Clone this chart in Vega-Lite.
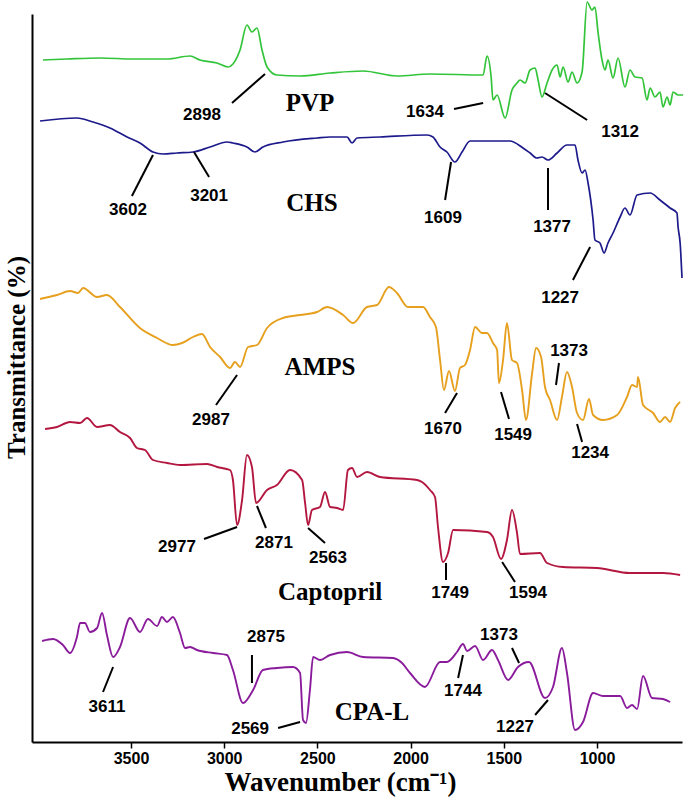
{
"$schema":"https://vega.github.io/schema/vega-lite/v6.json",
"width":650,"height":728,"autosize":"none",
"padding":{"left":32,"top":14,"right":3,"bottom":60},
"background":"white",
"config":{"view":{"stroke":null}},
"datasets":{
"PVP":[{"w":3972,"t":682},{"w":3843,"t":683},{"w":3666,"t":684},{"w":3489,"t":683},{"w":3307,"t":683},{"w":3183,"t":686},{"w":3130,"t":682},{"w":3038,"t":679},{"w":2979,"t":675},{"w":2953,"t":678},{"w":2915,"t":692},{"w":2878,"t":717},{"w":2851,"t":710},{"w":2824,"t":714},{"w":2797,"t":692},{"w":2770,"t":675},{"w":2717,"t":667},{"w":2593,"t":666},{"w":2432,"t":669},{"w":2255,"t":671},{"w":2073,"t":666},{"w":1896,"t":668},{"w":1611,"t":667},{"w":1590,"t":686},{"w":1568,"t":665},{"w":1558,"t":642},{"w":1536,"t":647},{"w":1493,"t":624},{"w":1456,"t":652},{"w":1429,"t":659},{"w":1413,"t":662},{"w":1386,"t":659},{"w":1359,"t":672},{"w":1332,"t":674},{"w":1316,"t":662},{"w":1295,"t":645},{"w":1268,"t":659},{"w":1241,"t":672},{"w":1214,"t":677},{"w":1198,"t":665},{"w":1182,"t":675},{"w":1155,"t":660},{"w":1134,"t":670},{"w":1107,"t":659},{"w":1080,"t":670},{"w":1053,"t":740},{"w":1027,"t":732},{"w":1011,"t":735},{"w":994,"t":709},{"w":973,"t":682},{"w":957,"t":672},{"w":941,"t":682},{"w":914,"t":664},{"w":887,"t":684},{"w":850,"t":655},{"w":823,"t":672},{"w":796,"t":665},{"w":758,"t":664},{"w":732,"t":642},{"w":715,"t":654},{"w":689,"t":645},{"w":662,"t":650},{"w":646,"t":635},{"w":624,"t":645},{"w":608,"t":637},{"w":592,"t":650},{"w":565,"t":647},{"w":538,"t":647}],
"CHS":[{"w":3988,"t":621},{"w":3790,"t":624},{"w":3704,"t":620},{"w":3613,"t":614},{"w":3521,"t":605},{"w":3452,"t":599},{"w":3382,"t":590},{"w":3328,"t":588},{"w":3253,"t":589},{"w":3167,"t":590},{"w":3076,"t":595},{"w":2985,"t":600},{"w":2953,"t":599},{"w":2878,"t":595},{"w":2835,"t":590},{"w":2792,"t":595},{"w":2684,"t":600},{"w":2502,"t":604},{"w":2432,"t":605},{"w":2341,"t":605},{"w":2314,"t":599},{"w":2287,"t":604},{"w":2164,"t":605},{"w":1912,"t":607},{"w":1880,"t":605},{"w":1842,"t":595},{"w":1805,"t":590},{"w":1762,"t":580},{"w":1724,"t":590},{"w":1681,"t":601},{"w":1467,"t":601},{"w":1397,"t":594},{"w":1359,"t":589},{"w":1322,"t":584},{"w":1295,"t":585},{"w":1263,"t":582},{"w":1214,"t":589},{"w":1161,"t":597},{"w":1118,"t":597},{"w":1102,"t":582},{"w":1080,"t":569},{"w":1064,"t":572},{"w":1048,"t":559},{"w":1021,"t":522},{"w":1011,"t":502},{"w":984,"t":499},{"w":962,"t":489},{"w":941,"t":499},{"w":914,"t":509},{"w":876,"t":525},{"w":850,"t":534},{"w":823,"t":527},{"w":785,"t":547},{"w":715,"t":549},{"w":662,"t":542},{"w":608,"t":534},{"w":571,"t":529},{"w":565,"t":515},{"w":554,"t":499},{"w":544,"t":464}],
"AMPS":[{"w":3988,"t":443},{"w":3897,"t":447},{"w":3827,"t":451},{"w":3784,"t":449},{"w":3757,"t":454},{"w":3682,"t":445},{"w":3629,"t":447},{"w":3559,"t":435},{"w":3452,"t":414},{"w":3360,"t":404},{"w":3275,"t":397},{"w":3226,"t":399},{"w":3167,"t":405},{"w":3119,"t":408},{"w":3076,"t":395},{"w":3022,"t":385},{"w":2969,"t":374},{"w":2942,"t":380},{"w":2915,"t":375},{"w":2872,"t":395},{"w":2824,"t":397},{"w":2770,"t":414},{"w":2684,"t":424},{"w":2593,"t":427},{"w":2502,"t":430},{"w":2448,"t":435},{"w":2362,"t":427},{"w":2309,"t":419},{"w":2234,"t":435},{"w":2180,"t":437},{"w":2116,"t":455},{"w":2073,"t":449},{"w":2014,"t":435},{"w":1933,"t":435},{"w":1896,"t":425},{"w":1864,"t":415},{"w":1842,"t":382},{"w":1821,"t":352},{"w":1794,"t":371},{"w":1762,"t":351},{"w":1735,"t":374},{"w":1708,"t":377},{"w":1681,"t":392},{"w":1654,"t":415},{"w":1617,"t":409},{"w":1590,"t":409},{"w":1558,"t":399},{"w":1536,"t":392},{"w":1526,"t":359},{"w":1504,"t":382},{"w":1483,"t":419},{"w":1456,"t":382},{"w":1429,"t":379},{"w":1402,"t":352},{"w":1381,"t":322},{"w":1348,"t":369},{"w":1327,"t":394},{"w":1300,"t":385},{"w":1279,"t":355},{"w":1252,"t":342},{"w":1214,"t":322},{"w":1188,"t":345},{"w":1161,"t":370},{"w":1134,"t":355},{"w":1107,"t":329},{"w":1075,"t":322},{"w":1043,"t":343},{"w":1021,"t":327},{"w":968,"t":322},{"w":892,"t":327},{"w":839,"t":345},{"w":812,"t":357},{"w":785,"t":355},{"w":780,"t":365},{"w":753,"t":337},{"w":699,"t":329},{"w":662,"t":320},{"w":635,"t":325},{"w":608,"t":320},{"w":581,"t":334},{"w":554,"t":340}],
"CAP":[{"w":3961,"t":313},{"w":3897,"t":315},{"w":3827,"t":320},{"w":3773,"t":319},{"w":3736,"t":324},{"w":3682,"t":315},{"w":3613,"t":317},{"w":3559,"t":310},{"w":3505,"t":304},{"w":3468,"t":294},{"w":3425,"t":292},{"w":3382,"t":282},{"w":3307,"t":279},{"w":3237,"t":277},{"w":3092,"t":278},{"w":3038,"t":275},{"w":2969,"t":272},{"w":2953,"t":262},{"w":2931,"t":217},{"w":2904,"t":242},{"w":2878,"t":287},{"w":2851,"t":275},{"w":2829,"t":239},{"w":2770,"t":252},{"w":2717,"t":257},{"w":2647,"t":272},{"w":2582,"t":262},{"w":2566,"t":239},{"w":2550,"t":217},{"w":2529,"t":232},{"w":2486,"t":235},{"w":2459,"t":250},{"w":2432,"t":235},{"w":2395,"t":234},{"w":2362,"t":232},{"w":2336,"t":272},{"w":2314,"t":274},{"w":2287,"t":265},{"w":2234,"t":270},{"w":2164,"t":265},{"w":1965,"t":262},{"w":1939,"t":260},{"w":1896,"t":252},{"w":1869,"t":245},{"w":1853,"t":215},{"w":1826,"t":180},{"w":1799,"t":189},{"w":1772,"t":212},{"w":1590,"t":210},{"w":1558,"t":205},{"w":1515,"t":183},{"w":1483,"t":202},{"w":1456,"t":232},{"w":1429,"t":209},{"w":1413,"t":188},{"w":1306,"t":189},{"w":1268,"t":179},{"w":1182,"t":175},{"w":1000,"t":174},{"w":823,"t":169},{"w":646,"t":169},{"w":554,"t":167}],
"CPAL":[{"w":3977,"t":101},{"w":3918,"t":103},{"w":3865,"t":97},{"w":3827,"t":89},{"w":3790,"t":105},{"w":3773,"t":119},{"w":3747,"t":119},{"w":3720,"t":110},{"w":3682,"t":114},{"w":3655,"t":129},{"w":3629,"t":107},{"w":3596,"t":85},{"w":3559,"t":95},{"w":3505,"t":124},{"w":3452,"t":110},{"w":3409,"t":123},{"w":3360,"t":116},{"w":3334,"t":125},{"w":3307,"t":120},{"w":3275,"t":125},{"w":3237,"t":109},{"w":3210,"t":94},{"w":3183,"t":95},{"w":3146,"t":92},{"w":3060,"t":89},{"w":2985,"t":87},{"w":2953,"t":72},{"w":2899,"t":39},{"w":2845,"t":52},{"w":2792,"t":72},{"w":2717,"t":74},{"w":2631,"t":75},{"w":2593,"t":69},{"w":2577,"t":22},{"w":2561,"t":19},{"w":2540,"t":52},{"w":2523,"t":85},{"w":2486,"t":82},{"w":2432,"t":87},{"w":2341,"t":90},{"w":2255,"t":85},{"w":2094,"t":84},{"w":2046,"t":79},{"w":2003,"t":69},{"w":1923,"t":55},{"w":1842,"t":80},{"w":1805,"t":80},{"w":1751,"t":90},{"w":1719,"t":98},{"w":1697,"t":91},{"w":1654,"t":96},{"w":1611,"t":82},{"w":1563,"t":92},{"w":1531,"t":82},{"w":1477,"t":62},{"w":1424,"t":75},{"w":1365,"t":80},{"w":1279,"t":44},{"w":1236,"t":55},{"w":1188,"t":94},{"w":1161,"t":69},{"w":1118,"t":12},{"w":1075,"t":20},{"w":1021,"t":49},{"w":968,"t":46},{"w":876,"t":46},{"w":839,"t":34},{"w":812,"t":37},{"w":785,"t":33},{"w":753,"t":66},{"w":705,"t":44},{"w":646,"t":43},{"w":608,"t":40}],
"ann":[{"label":"2898","w":3119,"t":627},{"label":"3602","w":3516,"t":532},{"label":"3201","w":3081,"t":546},{"label":"1634","w":1923,"t":630},{"label":"1312","w":876,"t":610},{"label":"1609","w":1826,"t":524},{"label":"1377","w":1241,"t":515},{"label":"1227","w":1198,"t":444},{"label":"2987","w":3071,"t":322},{"label":"1670","w":1826,"t":313},{"label":"1549","w":1450,"t":307},{"label":"1373","w":1150,"t":391},{"label":"1234","w":1037,"t":289},{"label":"2977","w":3253,"t":195},{"label":"2871","w":2733,"t":199},{"label":"2563","w":2443,"t":184},{"label":"1749","w":1788,"t":149},{"label":"1594","w":1370,"t":149},{"label":"3611","w":3629,"t":35},{"label":"2875","w":2776,"t":105},{"label":"2569","w":2861,"t":13},{"label":"1744","w":1719,"t":51},{"label":"1373","w":1526,"t":107},{"label":"1227","w":1440,"t":15}],
"lead":[{"w":2958,"t":639,"w2":2781,"t2":668},{"w":3495,"t":546,"w2":3382,"t2":587},{"w":3081,"t":565,"w2":3162,"t2":590},{"w":1767,"t":633,"w2":1611,"t2":639},{"w":1053,"t":622,"w2":1279,"t2":649},{"w":1815,"t":542,"w2":1783,"t2":580},{"w":1263,"t":574,"w2":1263,"t2":532},{"w":1129,"t":462,"w2":1037,"t2":495},{"w":3044,"t":337,"w2":2931,"t2":367},{"w":1815,"t":329,"w2":1751,"t2":349},{"w":1472,"t":323,"w2":1515,"t2":350},{"w":1204,"t":379,"w2":1220,"t2":357},{"w":1080,"t":300,"w2":1107,"t2":318},{"w":3108,"t":203,"w2":2931,"t2":215},{"w":2776,"t":214,"w2":2824,"t2":236},{"w":2459,"t":199,"w2":2550,"t2":214},{"w":1810,"t":179,"w2":1810,"t2":162},{"w":1509,"t":180,"w2":1440,"t2":160},{"w":3650,"t":50,"w2":3596,"t2":75},{"w":2851,"t":87,"w2":2851,"t2":59},{"w":2711,"t":14,"w2":2593,"t2":20},{"w":1745,"t":64,"w2":1719,"t2":87},{"w":1456,"t":94,"w2":1418,"t2":79},{"w":1332,"t":27,"w2":1263,"t2":42}],
"names":[{"label":"PVP","w":2540,"t":639},{"label":"CHS","w":2529,"t":539},{"label":"AMPS","w":2486,"t":375},{"label":"Captopril","w":2432,"t":150},{"label":"CPA-L","w":2207,"t":30}]
},
"encoding":{
"x":{"field":"w","type":"quantitative","scale":{"domain":[544,4031],"reverse":true,"nice":false,"zero":false},
"axis":{"values":[3500,3000,2500,2000,1500,1000],"format":"d","grid":false,"domainColor":"black","domainWidth":2,"tickColor":"black","tickWidth":1.5,"tickSize":6,"labelFont":"Liberation Sans","labelFontWeight":"bold","labelFontSize":16,"labelColor":"black","labelPadding":2,"title":"Wavenumber (cm⁻¹)","titleFont":"Liberation Serif","titleFontSize":27,"titleFontWeight":"bold","titleColor":"black","titleX":308,"titleY":40,"titleBaseline":"middle","titleAnchor":"middle"}},
"y":{"field":"t","type":"quantitative","scale":{"domain":[0,728],"nice":false,"zero":false},
"axis":{"grid":false,"ticks":false,"labels":false,"domainColor":"black","domainWidth":2,"title":"Transmittance (%)","titleFont":"Liberation Serif","titleFontSize":25,"titleFontWeight":"bold","titleColor":"black","titleX":-16,"titleY":343,"titleAngle":-90,"titleBaseline":"middle","titleAlign":"center"}}
},
"layer":[
{"data":{"name":"PVP"},"mark":{"type":"line","color":"#33c43a","strokeWidth":1.7,"interpolate":"monotone","strokeJoin":"round"}},
{"data":{"name":"CHS"},"mark":{"type":"line","color":"#1d1a8c","strokeWidth":1.7,"interpolate":"monotone","strokeJoin":"round"}},
{"data":{"name":"AMPS"},"mark":{"type":"line","color":"#e6a01e","strokeWidth":1.9,"interpolate":"monotone","strokeJoin":"round"}},
{"data":{"name":"CAP"},"mark":{"type":"line","color":"#b3173f","strokeWidth":1.9,"interpolate":"monotone","strokeJoin":"round"}},
{"data":{"name":"CPAL"},"mark":{"type":"line","color":"#8a1c9c","strokeWidth":1.9,"interpolate":"monotone","strokeJoin":"round"}},
{"data":{"name":"lead"},"mark":{"type":"rule","color":"black","strokeWidth":2},"encoding":{"x2":{"field":"w2"},"y2":{"field":"t2"}}},
{"data":{"name":"ann"},"mark":{"type":"text","font":"Liberation Sans","fontWeight":"bold","fontSize":17,"color":"black","align":"center","baseline":"middle"},"encoding":{"text":{"field":"label"}}},
{"data":{"name":"names"},"mark":{"type":"text","font":"Liberation Serif","fontWeight":"bold","fontSize":25,"color":"black","align":"center","baseline":"middle"},"encoding":{"text":{"field":"label"}}}
]
}
